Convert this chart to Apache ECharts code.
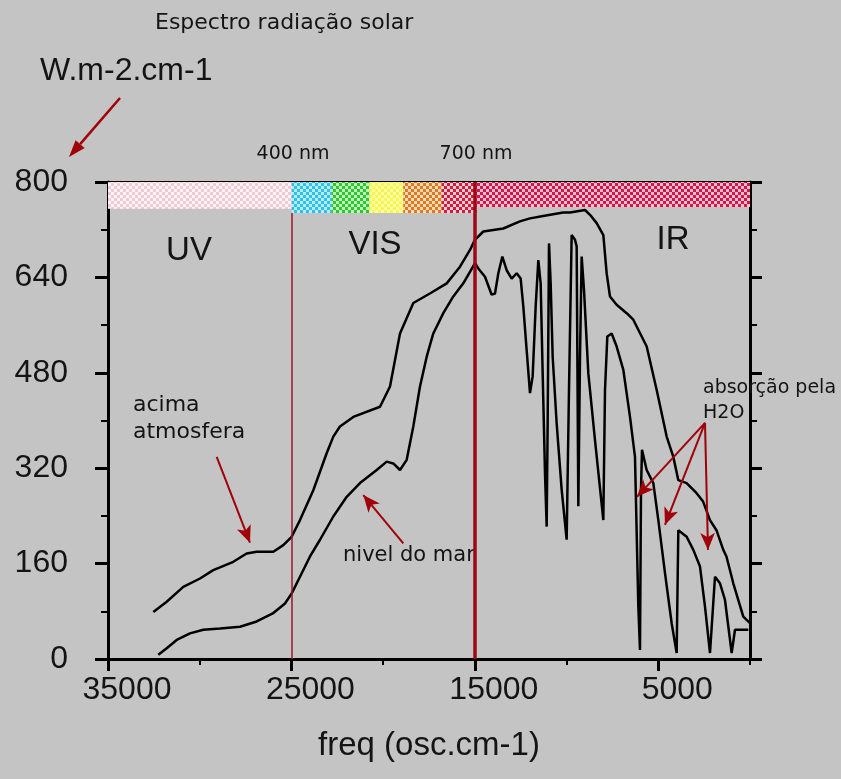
<!DOCTYPE html>
<html><head><meta charset="utf-8">
<script src="https://cdn.jsdelivr.net/npm/echarts/dist/echarts.min.js"></script>
<style>html,body{margin:0;padding:0;background:#c4c4c4}#c{width:841px;height:779px}</style>
</head><body><div id="c"></div>
<script>
// ---- data ----
const upperFreq = [32530,31800,30896,29984,29261,28169,27442,26896,25988,25443,24988,24533,23807,23080,22717,22356,21627,20171,19626,19081,18355,17451,16535,15810,15265,14999,14540,13449,12546,11993,11276,10186,9812,8996,8722,8359,7996,7815,7633,7270,6724,6362,5632,5087,4543,4181,3908,3455,2910,2556,2183,1829,1456,1284,911,366,0];
const upperVal = [79,96,121,135,149,163,177,180,180,191,205,233,283,345,373,390,406,423,457,546,597,613,630,658,686,703,717,722,734,739,743,749,749,753,745,731,711,647,608,594,580,569,524,451,373,339,300,295,278,264,233,216,183,172,127,71,60];
const lowerFreq = [32258,31800,31255,30530,29804,28894,27804,26894,25988,25350,24985,24533,23987,23442,22717,21987,21262,20351,19806,19446,19081,18716,18356,17991,17625,17266,16720,16175,15630,14992,14811,14447,14084,13902,13720,13502,13266,12993,12721,12503,12358,12176,11994,11849,11685,11540,11413,11303,11176,11085,11031,10958,10867,10758,10540,10268,9995,9868,9723,9541,9450,9359,9268,9177,9050,8814,8451,7996,7905,7778,7542,7269,6906,6542,6270,6088,5997,5943,5888,5634,5270,4998,4634,4271,3998,3908,3453,3090,2726,2454,2181,1909,1636,1364,1090,1000,818,91];
const lowerVal = [7,18,32,43,49,51,54,63,77,93,110,138,172,200,239,272,295,317,331,328,317,334,390,457,507,546,580,608,630,664,655,641,611,613,647,675,652,638,647,638,591,518,446,474,591,669,630,479,311,222,395,697,630,507,395,284,200,451,711,703,692,256,507,675,619,479,367,233,451,541,546,524,485,406,339,88,15,283,351,317,295,233,144,60,10,216,205,183,155,88,10,138,127,99,32,10,49,49];
const xTickLabels = ['35000','30000','25000','20000','15000','10000','5000','0'];
const yMax = 800;
const bandFrom = [35000,24985,22804,20755,18901,16808,14900];
const bandTo = [24985,22804,20755,18901,16808,14900,0];
const bandBottom = [755,748,748,748,748,748,758];
const line400 = 25000, line700 = 15000;
// annotation arrows (data coords): [fromFreq, fromVal, toFreq, toVal]
const arrowAcima = [29074,339,27259,195];
const arrowNivel = [18901,194,21082,275];
const arrowsH2O = [[2453,396,6161,272],[2453,396,4635,225],[2453,396,2290,183]];

// ---- styles ----
const bandColors = [['#f2cad4','#fff4f6'],['#30bfe6','#b4ecf8'],['#2cc82c','#bff2bf'],['#f6f650','#fcfca6'],['#e07a22','#f8dab4'],['#d61a3a','#f8ccd4'],['#d0184a','#f4bccc']];
function checker(c1,c2,cell){
  const cv=document.createElement('canvas'); cv.width=cv.height=cell*2;
  const ctx=cv.getContext('2d'); ctx.fillStyle=c2; ctx.fillRect(0,0,cell*2,cell*2);
  ctx.fillStyle=c1; ctx.fillRect(0,0,cell,cell); ctx.fillRect(cell,cell,cell,cell);
  return {image:cv, repeat:'repeat'};
}
const bandPatterns = bandColors.map(c=>checker(c[0],c[1],3));
const RED='#a00008';
const LS='Liberation Sans', DJ='DejaVu Sans';
function arrowPair(a){
  return [{coord:[a[0],a[1]], symbol:'none', lineStyle:{color:RED,width:2,type:'solid'}}, {coord:[a[2],a[3]], symbol:'arrow', symbolSize:[11,17]}];
}
function gArrow(x1,y1,x2,y2){
  const ang=Math.atan2(y2-y1,x2-x1), L=17, W=6;
  const bx=x2-L*Math.cos(ang), by=y2-L*Math.sin(ang), px=-Math.sin(ang)*W, py=Math.cos(ang)*W;
  return [{type:'line', shape:{x1,y1,x2:bx,y2:by}, style:{stroke:RED,lineWidth:2.5}, z:5},
          {type:'polygon', shape:{points:[[x2,y2],[bx+px,by+py],[bx-px,by-py]]}, style:{fill:RED}, z:5}];
}
function txt(text,x,y,size,fam,align){
  return {type:'text', x, y, z:1, style:{text, fontSize:size, fontFamily:fam, fill:'#141414', align:align||'left', verticalAlign:'middle'}};
}
const majorIdx = (i)=> i%2===0;

const chart = echarts.init(document.getElementById('c'), null, {renderer:'canvas'});
chart.setOption({
  animation:false,
  backgroundColor:'#c4c4c4',
  grid:{left:108,right:91,top:182,bottom:120,containLabel:false,outerBoundsMode:'none',show:true,borderColor:'#000',borderWidth:2,backgroundColor:'transparent'},
  xAxis:[
    {type:'value',position:'bottom',min:0,max:35000,interval:5000,inverse:true,
     axisLine:{show:true,onZero:false,lineStyle:{color:'#000',width:3}},
     axisTick:{show:true,length:6,lineStyle:{color:'#000',width:2}},
     axisLabel:{show:false},splitLine:{show:false}},
    {type:'category',position:'bottom',data:xTickLabels,boundaryGap:false,
     axisLine:{show:false,onZero:false},
     axisTick:{show:true,interval:majorIdx,length:12,lineStyle:{color:'#000',width:3}},
     axisLabel:{show:true,interval:majorIdx,fontSize:32,fontFamily:LS,color:'#141414',margin:15,padding:[0,0,0,38]},
     splitLine:{show:false},
     name:'freq (osc.cm-1)',nameLocation:'middle',nameGap:70,
     nameTextStyle:{fontSize:33,fontFamily:LS,color:'#141414'}}
  ],
  yAxis:[
    {type:'value',position:'left',min:0,max:yMax,interval:160,
     axisLine:{show:true,onZero:false,lineStyle:{color:'#000',width:3}},
     axisTick:{show:true,length:13,lineStyle:{color:'#000',width:3}},
     minorTick:{show:true,splitNumber:2,length:7,lineStyle:{color:'#000',width:2}},
     axisLabel:{show:true,fontSize:32,fontFamily:LS,color:'#141414',margin:40,verticalAlign:'middle',padding:[0,0,24,0]},
     splitLine:{show:false},minorSplitLine:{show:false}},
    {type:'value',position:'right',min:0,max:yMax,interval:160,
     axisLine:{show:true,onZero:false,lineStyle:{color:'#000',width:3}},
     axisTick:{show:true,length:12,lineStyle:{color:'#000',width:3}},
     minorTick:{show:true,splitNumber:2,length:7,lineStyle:{color:'#000',width:2}},
     axisLabel:{show:false},splitLine:{show:false},minorSplitLine:{show:false}}
  ],
  series:[
    {type:'custom',xAxisIndex:0,yAxisIndex:0,silent:true,z:1,
     data:bandFrom.map((f,i)=>[f,bandTo[i],bandBottom[i],i]),
     renderItem:(params,api)=>{
       const a=api.coord([api.value(0),yMax]);
       const b=api.coord([api.value(1),api.value(2)]);
       return {type:'rect',shape:{x:Math.min(a[0],b[0]),y:a[1],width:Math.abs(b[0]-a[0]),height:b[1]-a[1]},style:{fill:bandPatterns[api.value(3)]}};
     }},
    {type:'line',name:'acima atmosfera',xAxisIndex:0,yAxisIndex:0,z:3,silent:true,
     data:upperFreq.map((f,i)=>[f,upperVal[i]]),symbol:'none',
     lineStyle:{color:'#000',width:2.5}},
    {type:'line',name:'nivel do mar',xAxisIndex:0,yAxisIndex:0,z:3,silent:true,
     data:lowerFreq.map((f,i)=>[f,lowerVal[i]]),symbol:'none',
     lineStyle:{color:'#000',width:2.5},
     markLine:{silent:true,animation:false,symbol:['none','none'],label:{show:false},
       emphasis:{disabled:true},
       data:[
         [{coord:[line400,0],lineStyle:{color:'#a01424',width:1.5,type:'solid'}},{coord:[line400,bandBottom[1]]}],
         [{coord:[line700,0],lineStyle:{color:'#9c0818',width:3.5,type:'solid'}},{coord:[line700,yMax]}],
         arrowPair(arrowAcima), arrowPair(arrowNivel),
         ...arrowsH2O.map(arrowPair)
       ]
     }}
  ],
  graphic:[
    txt('Espectro radiação solar',155,23,22,DJ),
    txt('W.m-2.cm-1',40,71,32,LS),
    txt('400 nm',293,154,19,DJ,'center'),
    txt('700 nm',476,154,19,DJ,'center'),
    txt('UV',189,251,33,LS,'center'),
    txt('VIS',375,245,33,LS,'center'),
    txt('IR',673,240,33,LS,'center'),
    txt('acima',133,405,22,DJ),
    txt('atmosfera',133,432,22,DJ),
    txt('nivel do mar',343,556,21,DJ),
    txt('absorção pela',703,388,19,DJ),
    txt('H2O',703,413,19,DJ),
    ...gArrow(120,98,69,157)
  ]
});
</script></body></html>
